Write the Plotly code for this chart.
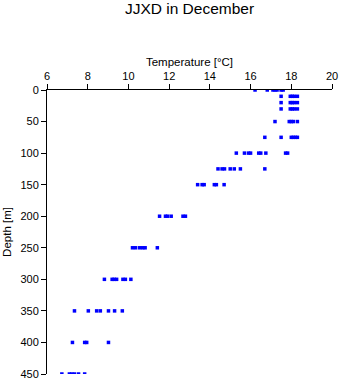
import plotly.graph_objects as go

# Temperature readings (°C) per sampling depth (m)
depths = [0, 10, 20, 30, 50, 75, 100, 125, 150, 200, 250, 300, 350, 400, 450]
temps_0 = [16.22, 16.82, 17.1, 17.2, 17.3, 17.5, 17.6]
temps_10 = [17.5, 17.95, 18.05, 18.15, 18.3]
temps_20 = [17.5, 17.95, 18.05, 18.15, 18.3]
temps_30 = [17.5, 17.95, 18.05, 18.15, 18.3]
temps_50 = [17.2, 17.9, 18.0, 18.1, 18.3]
temps_75 = [16.7, 17.5, 18.0, 18.1, 18.2, 18.3]
temps_100 = [15.3, 15.7, 15.9, 16.0, 16.4, 16.5, 16.75, 17.72, 17.82]
temps_125 = [14.4, 14.6, 14.72, 15.0, 15.2, 15.5, 16.7]
temps_150 = [13.4, 13.62, 13.72, 14.22, 14.32, 14.7]
temps_200 = [11.53, 11.82, 11.92, 12.1, 12.68, 12.8]
temps_250 = [10.2, 10.35, 10.55, 10.7, 10.82, 11.42]
temps_300 = [8.82, 9.2, 9.3, 9.42, 9.73, 9.85, 10.12]
temps_350 = [7.35, 8.03, 8.44, 8.62, 9.02, 9.32, 9.7]
temps_400 = [7.25, 7.85, 7.95, 9.02]
temps_450 = [6.73, 7.1, 7.22, 7.35, 7.55, 7.85]

temp_lists = [temps_0, temps_10, temps_20, temps_30, temps_50, temps_75, temps_100,
              temps_125, temps_150, temps_200, temps_250, temps_300, temps_350,
              temps_400, temps_450]

x_ticks = [6, 8, 10, 12, 14, 16, 18, 20]
y_ticks = [0, 50, 100, 150, 200, 250, 300, 350, 400, 450]

xs, ys = [], []
for d, tl in zip(depths, temp_lists):
    for t in tl:
        xs.append(t)
        ys.append(d)

font_family = "Liberation Sans, Arial, sans-serif"

fig = go.Figure(go.Scatter(
    x=xs, y=ys, mode="markers",
    marker=dict(symbol="square", size=3.5, color="#0000ff", line=dict(width=0)),
    hoverinfo="x+y",
))

fig.update_layout(
    width=341, height=384,
    margin=dict(l=47, r=9, t=90, b=10, pad=0),
    paper_bgcolor="white", plot_bgcolor="white",
    showlegend=False,
    font=dict(family=font_family, size=11, color="black"),
    title=dict(text="JJXD in December", x=(47 + 332) / 2 / 341, xanchor="center",
               y=1 - 9 / 384, yanchor="middle", yref="container",
               font=dict(family=font_family, size=15.5, color="black")),
    xaxis=dict(
        side="top", range=[6, 20], tickvals=x_ticks,
        showline=True, linecolor="black", linewidth=1, mirror=False,
        ticks="outside", ticklen=5, tickcolor="black", tickwidth=1,
        showgrid=False, zeroline=False,
        title=dict(text="Temperature [°C]", standoff=0, font=dict(size=11.5)),
        automargin=False,
    ),
    yaxis=dict(
        range=[450, 0], tickvals=y_ticks,
        showline=True, linecolor="black", linewidth=1, mirror=False,
        ticks="outside", ticklen=5, tickcolor="black", tickwidth=1,
        showgrid=False, zeroline=False,
        title=dict(text="Depth [m]", standoff=6, font=dict(size=11.5)),
        automargin=False,
    ),
)

fig.write_html("out.html")
